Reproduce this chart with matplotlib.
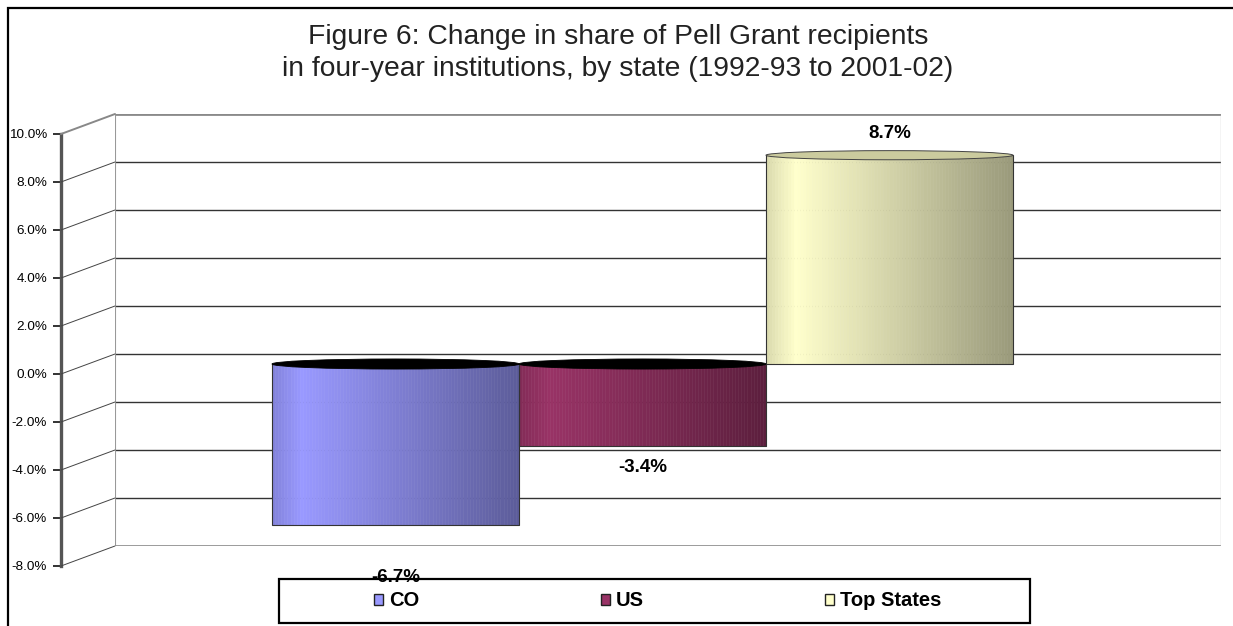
import matplotlib
matplotlib.use("Agg")
import matplotlib.pyplot as plt
from matplotlib.patches import Patch, Ellipse, Rectangle, ConnectionPatch
from matplotlib.transforms import ScaledTranslation
import numpy as np

plt.rcParams['font.family'] = ['Liberation Sans', 'DejaVu Sans']

# data
series = ['CO', 'US', 'Top States']
values = [-6.7, -3.4, 8.7]
labels = ['-6.7%', '-3.4%', '8.7%']
colors = ['#9999FF', '#993366', '#FFFFCC']
yticks = [-8, -6, -4, -2, 0, 2, 4, 6, 8, 10]
title1 = "Figure 6: Change in share of Pell Grant recipients"
title2 = "in four-year institutions, by state (1992-93 to 2001-02)"

W, H = 1233, 626
fig = plt.figure(figsize=(W / 100, H / 100), dpi=100)

def fx(px):
    return px / W

def fy(py):
    return 1 - py / H

# outer frame (right/bottom edges run off the picture)
fig.add_artist(Rectangle((fx(8), -0.1), 1.2, fy(8) + 0.1, transform=fig.transFigure,
                         fill=False, ec='black', lw=1.6, clip_on=False))

# titles
fig.text(fx(618), fy(44), title1, ha='center', va='baseline', fontsize=20.3, color='#222')
fig.text(fx(618), fy(76), title2, ha='center', va='baseline', fontsize=20.3, color='#222')

# back wall plane
ax = fig.add_axes([fx(115), fy(546), fx(1106), 432 / H])
x0, x1 = -1.245, 3.233
ax.set_xlim(x0, x1)
ax.set_ylim(-8, 10)
ax.axis('off')

for v in yticks:
    if v == 10:
        ax.hlines(v, x0, x1, color='#8a8a8a', lw=2, zorder=1)
    elif v == -8:
        ax.hlines(v, x0, x1, color='#8a8a8a', lw=1.2, zorder=1)
    else:
        ax.hlines(v, x0, x1, color='#333333', lw=1.0, zorder=1)
ax.vlines(x0, -8, 10, color='#999999', lw=1.5, zorder=1)
ax.vlines(x1, -8, 10, color='#c8c8c8', lw=1.0, zorder=1)

# front axis
axf = fig.add_axes([fx(61), fy(566), 0.0005, 432 / H])
axf.set_xlim(0, 1)
axf.set_ylim(-8, 10)
axf.patch.set_visible(False)
for s in ['top', 'right', 'bottom']:
    axf.spines[s].set_visible(False)
axf.spines['left'].set_color('#555555')
axf.spines['left'].set_linewidth(2.4)
axf.set_xticks([])
axf.set_yticks(yticks)
axf.set_yticklabels([f"{v:.1f}%" for v in yticks])
axf.tick_params(axis='y', length=6, width=1.3, color='#222', labelsize=9.7, pad=4)

for v in yticks:
    cp = ConnectionPatch(xyA=(0, v), coordsA=axf.transData, xyB=(x0, v), coordsB=ax.transData,
                         color='#444' if v != 10 else '#888', lw=0.7 if v != 10 else 1.4)
    fig.add_artist(cp)

# bars sit halfway between front and back planes
mid = ax.transData + ScaledTranslation(-27 / 100, -10 / 100, fig.dpi_scale_trans)

def shade(base, t):
    rgb = np.array(matplotlib.colors.to_rgb(base))
    if t < 0.12:
        f = 0.85 + 0.15 * t / 0.12
    else:
        f = 1 - 0.4 * (t - 0.12) / 0.88
    return tuple(np.clip(rgb * f, 0, 1))

N = 80
for i, (v, c) in enumerate(zip(values, colors)):
    ts = (np.arange(N) + 0.5) / N
    xs = i - 0.5 + np.arange(N) / N
    cols = [shade(c, t) for t in ts]
    ax.bar(xs, v, width=1 / N, align='edge', color=cols, edgecolor=cols, lw=0.4,
           transform=mid, zorder=3, clip_on=False)
    ax.bar(i, v, width=1, fill=False, edgecolor='#333', lw=0.8,
           transform=mid, zorder=4, clip_on=False)
    if v < 0:
        ax.add_patch(Ellipse((i, 0), 1, 0.42, fc='black', ec='black', lw=0.6,
                             transform=mid, zorder=5, clip_on=False))
    else:
        ax.add_patch(Ellipse((i, v), 1, 0.38, fc='#cbcb9e', ec='#444', lw=0.7,
                             transform=mid, zorder=5, clip_on=False))

label_pad = [53, 22, 22]
for i, (v, lab) in enumerate(zip(values, labels)):
    d = label_pad[i] if v >= 0 else -label_pad[i]
    ax.annotate(lab, xy=(i, v), xycoords=mid, xytext=(0, d), textcoords='offset pixels',
                ha='center', va='center', fontsize=13.5, fontweight='bold',
                annotation_clip=False, zorder=6)

# legend
fig.add_artist(Rectangle((fx(279), fy(623)), fx(751), 44 / H, transform=fig.transFigure,
                         fill=False, ec='black', lw=1.6, clip_on=False))
handles = [Patch(fc=c, ec='#222', lw=1.0, label=s) for s, c in zip(series, colors)]
fig.legend(handles=handles, loc='center', bbox_to_anchor=(fx(658), fy(601)), ncol=3,
           frameon=False, prop={'weight': 'bold', 'size': 14.5},
           handlelength=0.45, handleheight=0.45, handletextpad=0.3, columnspacing=9.0)

fig.savefig('out.png', dpi=100)
